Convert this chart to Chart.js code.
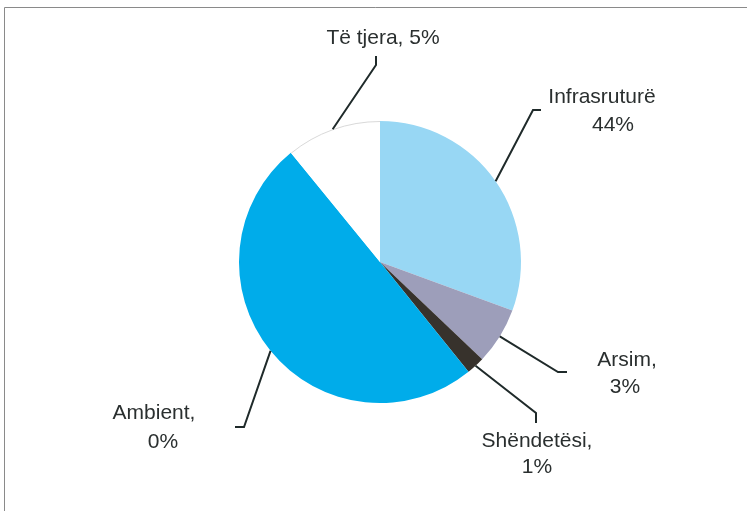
<!DOCTYPE html>
<html>
<head>
<meta charset="utf-8">
<script src="https://cdn.jsdelivr.net/npm/chart.js@4.4.1/dist/chart.umd.min.js"></script>
<style>
    body { margin: 0; background: #fff; }
    #wrap { width: 747px; height: 511px; }
</style>
</head>
<body>
<div id="wrap"><canvas id="myChart" width="747" height="511"></canvas></div>
<script>
// data (slice sizes) and the printed labels
const categories = ['Infrasruturë', 'Arsim', 'Shëndetësi', 'Ambient', 'Të tjera'];
const sliceValues = [30.6, 6.5, 2.1, 49.9, 10.9];
const percentLabels = ['44%', '3%', '1%', '0%', '5%'];
const sliceColors = ['#98d7f4', '#9d9eba', '#37322c', '#00acea', '#ffffff'];

// how each label is written and where it sits (elbow, end of leader, text lines)
const labelLayout = [
    { sep: '\n', elbow: [533, 110], end: [541, 110], pos: [[602, 97], [613, 125]] },
    { sep: ',\n', elbow: [558, 372], end: [567, 372], pos: [[627, 360], [625, 387]] },
    { sep: ',\n', elbow: [536, 413], end: [536, 423], pos: [[537, 441], [537, 467]] },
    { sep: ',\n', elbow: [244, 427], end: [235, 427], pos: [[154, 413], [163, 442]] },
    { sep: ', ', elbow: [376, 65], end: [376, 56], pos: [[383, 38]] }
];

const frame = {
    id: 'frame',
    beforeDraw(chart) {
        const c = chart.ctx;
        c.save();
        c.strokeStyle = '#8a8a8a';
        c.lineWidth = 1;
        c.beginPath();
        c.moveTo(4.5, 511);
        c.lineTo(4.5, 7.5);
        c.lineTo(747, 7.5);
        c.stroke();
        c.restore();
    }
};

// faint rim on the white slice, like the original
const whiteRim = {
    id: 'whiteRim',
    afterDatasetsDraw(chart) {
        const arcs = chart.getDatasetMeta(0).data;
        const c = chart.ctx;
        arcs.forEach((arc, i) => {
            if (sliceColors[i] !== '#ffffff') return;
            const p = arc.getProps(['x', 'y', 'startAngle', 'endAngle', 'outerRadius'], true);
            c.save();
            c.strokeStyle = '#d9d9d9';
            c.lineWidth = 1;
            c.beginPath();
            c.arc(p.x, p.y, p.outerRadius - 0.5, p.startAngle, p.endAngle);
            c.stroke();
            c.restore();
        });
    }
};

const leaderLabels = {
    id: 'leaderLabels',
    afterDraw(chart) {
        const c = chart.ctx;
        const arcs = chart.getDatasetMeta(0).data;
        c.save();
        c.strokeStyle = '#1f2a2a';
        c.lineWidth = 2;
        c.fillStyle = '#2a2f2f';
        c.font = '21px "Liberation Sans", Arial, sans-serif';
        c.textAlign = 'center';
        c.textBaseline = 'middle';
        arcs.forEach((arc, i) => {
            const p = arc.getProps(['x', 'y', 'startAngle', 'endAngle', 'outerRadius'], true);
            const mid = (p.startAngle + p.endAngle) / 2;
            const sx = p.x + Math.cos(mid) * p.outerRadius;
            const sy = p.y + Math.sin(mid) * p.outerRadius;
            const lay = labelLayout[i];
            c.beginPath();
            c.moveTo(sx, sy);
            c.lineTo(lay.elbow[0], lay.elbow[1]);
            c.lineTo(lay.end[0], lay.end[1]);
            c.stroke();

            const lines = (categories[i] + lay.sep + percentLabels[i]).split('\n');
            lines.forEach((t, k) => {
                c.fillText(t, lay.pos[k][0], lay.pos[k][1]);
            });
        });
        c.restore();
    }
};

const ctx = document.getElementById('myChart').getContext('2d');
const myChart = new Chart(ctx, {
    type: 'pie',
    data: {
        labels: categories,
        datasets: [{
            data: sliceValues,
            backgroundColor: sliceColors,
            borderWidth: 0
        }]
    },
    options: {
        responsive: false,
        animation: false,
        layout: {
            padding: { left: 239, right: 226, top: 121, bottom: 108 }
        },
        plugins: {
            legend: { display: false },
            tooltip: { enabled: false }
        }
    },
    plugins: [frame, whiteRim, leaderLabels]
});
</script>
</body>
</html>
